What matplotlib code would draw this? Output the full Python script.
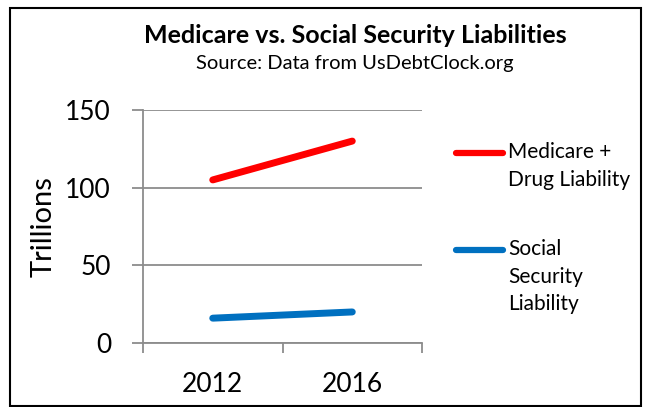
import matplotlib
matplotlib.use("Agg")
import matplotlib.pyplot as plt
from matplotlib.lines import Line2D
from matplotlib.patches import Rectangle

plt.rcParams['font.family'] = ['Lato', 'DejaVu Sans']

# Datos
years = ['2012', '2016']
medicare = [105, 130]
social_security = [16, 20]
labels = ['Medicare +\nDrug Liability', 'Social\nSecurity\nLiability']
colors = ['#FF0000', '#0070C0']

fig = plt.figure(figsize=(6.49, 4.07), dpi=100)
ax = fig.add_axes([0.2203, 0.1572, 0.4300, 0.5725])

x = [i + 0.5 for i in range(len(years))]
ax.plot(x, medicare, color=colors[0], lw=5, solid_capstyle='round')
ax.plot(x, social_security, color=colors[1], lw=5, solid_capstyle='round')

grid_c = '#8C8C8C'
ax.set_xlim(0, len(years))
ax.set_ylim(0, 150)
ax.set_yticks([0, 50, 100, 150])
ax.yaxis.grid(True, color=grid_c, lw=1.3)
ax.set_axisbelow(True)
ax.set_xticks([0, 1, 2])
ax.set_xticklabels([])
ax.set_xticks(x, minor=True)
ax.set_xticklabels(years, minor=True)
ax.tick_params(axis='x', which='major', direction='out', length=7, width=1.3, color=grid_c)
ax.tick_params(axis='x', which='minor', length=0, labelsize=19, pad=21)
ax.tick_params(axis='y', direction='out', length=8, width=1.3, color=grid_c, labelsize=19, pad=15)
for s in ['top', 'right']:
    ax.spines[s].set_visible(False)
for s in ['left', 'bottom']:
    ax.spines[s].set_color(grid_c)
    ax.spines[s].set_linewidth(1.3)
ax.set_ylabel('Trillions', fontsize=21, labelpad=6)

# Títulos
fig.text(0.547, 0.914, 'Medicare vs. Social Security Liabilities', ha='center', va='center',
         fontsize=18, fontweight='bold')
fig.text(0.547, 0.845, 'Source: Data from UsDebtClock.org', ha='center', va='center', fontsize=14.5)

# Leyenda manual
leg_y = [1 - 153 / 407, 1 - 250 / 407]
for lab, c, yy in zip(labels, colors, leg_y):
    fig.add_artist(Line2D([456 / 649, 503 / 649], [yy, yy], color=c, lw=4.5,
                          solid_capstyle='round', transform=fig.transFigure))
    fig.text(508 / 649, yy + 0.026, lab, ha='left', va='top', fontsize=15, linespacing=1.45)

# Marco
fig.patches.append(Rectangle((10 / 649, 0.0025), 631 / 649, 0.9775, transform=fig.transFigure,
                             fill=False, edgecolor='black', lw=1.5))

fig.savefig('out.png', dpi=100)
